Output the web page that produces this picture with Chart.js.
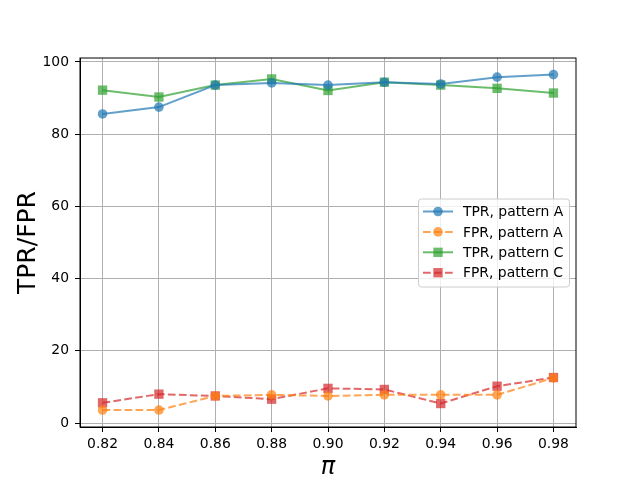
<!DOCTYPE html>
<html lang="en">
<head>
  <meta charset="UTF-8">
  <title>TPR/FPR vs pi</title>
  <script src="https://cdn.jsdelivr.net/npm/chart.js"></script>
  <style>
    body { margin: 0; background: #fff; }
  </style>
</head>
<body>
  <canvas id="rateChart" width="640" height="480"></canvas>

  <script>
    // values
    const piValues = [0.82, 0.84, 0.86, 0.88, 0.90, 0.92, 0.94, 0.96, 0.98];
    const tprA = [85.6, 87.5, 93.6, 94.2, 93.6, 94.4, 93.9, 95.8, 96.5];
    const fprA = [3.6, 3.6, 7.5, 7.8, 7.5, 7.8, 7.8, 7.8, 12.5];
    const tprC = [92.2, 90.3, 93.6, 95.3, 92.1, 94.4, 93.6, 92.7, 91.4];
    const fprC = [5.6, 8.0, 7.5, 6.6, 9.6, 9.3, 5.4, 10.2, 12.6];
    const yTicks = [0, 20, 40, 60, 80, 100];

    const toPoints = ys => piValues.map((x, i) => ({ x: x, y: ys[i] }));

    function series(label, ys, color, dashed, shape) {
      return {
        label: label,
        data: toPoints(ys),
        borderColor: color,
        backgroundColor: color,
        borderWidth: 2,
        borderDash: dashed ? [7.7, 3.3] : [],
        pointStyle: shape,
        pointRadius: shape === 'rect' ? 6.6 : 4.8,
        pointBorderWidth: 0,
        tension: 0
      };
    }

    // frame around the plot area
    const framePlugin = {
      id: 'frame',
      afterDraw(chart) {
        const a = chart.chartArea, ctx = chart.ctx;
        ctx.save();
        ctx.strokeStyle = '#000';
        ctx.lineWidth = 1;
        ctx.strokeRect(a.left, a.top, a.right - a.left, a.bottom - a.top);
        ctx.restore();
      }
    };

    // legend boxed inside the plot, centre right
    const insetLegend = {
      id: 'insetLegend',
      afterDraw(chart) {
        const a = chart.chartArea, ctx = chart.ctx;
        const sets = chart.data.datasets;
        const w = 151, rowH = 20.4, h = 88;
        const x0 = a.right - 7 - w;
        const y0 = (a.top + a.bottom) / 2 - h / 2;
        ctx.save();
        ctx.fillStyle = 'rgba(255,255,255,0.8)';
        ctx.strokeStyle = '#cccccc';
        ctx.lineWidth = 1;
        ctx.beginPath();
        ctx.roundRect(x0 + 0.5, y0 + 0.5, w, h, 3);
        ctx.fill();
        ctx.stroke();
        ctx.font = '13.9px "DejaVu Sans"';
        ctx.textBaseline = 'middle';
        sets.forEach((ds, i) => {
          const cy = y0 + 13 + i * rowH;
          ctx.strokeStyle = ds.borderColor;
          ctx.fillStyle = ds.backgroundColor;
          ctx.lineWidth = ds.borderWidth;
          ctx.setLineDash(ds.borderDash);
          ctx.beginPath();
          ctx.moveTo(x0 + 5, cy);
          ctx.lineTo(x0 + 35, cy);
          ctx.stroke();
          ctx.setLineDash([]);
          Chart.helpers.drawPoint(ctx, { pointStyle: ds.pointStyle, radius: ds.pointRadius, borderWidth: 0 }, x0 + 20, cy);
          ctx.fillStyle = '#000';
          ctx.fillText(ds.label, x0 + 45, cy + 1);
        });
        ctx.restore();
      }
    };

    const ctx = document.getElementById('rateChart').getContext('2d');
    new Chart(ctx, {
      type: 'line',
      data: {
        datasets: [
          series('TPR, pattern A', tprA, 'rgba(31,119,180,0.7)', false, 'circle'),
          series('FPR, pattern A', fprA, 'rgba(255,127,14,0.7)', true, 'circle'),
          series('TPR, pattern C', tprC, 'rgba(44,160,44,0.7)', false, 'rect'),
          series('FPR, pattern C', fprC, 'rgba(214,39,40,0.7)', true, 'rect')
        ]
      },
      options: {
        responsive: false,
        animation: false,
        layout: { padding: { top: 58, right: 64, left: 0, bottom: 0 } },
        plugins: {
          legend: { display: false },
          tooltip: { enabled: false }
        },
        scales: {
          x: {
            type: 'linear',
            min: 0.812,
            max: 0.988,
            afterBuildTicks: scale => { scale.ticks = piValues.map(v => ({ value: v })); },
            afterFit: scale => { scale.height = 53; },
            ticks: {
              color: '#000',
              font: { family: 'DejaVu Sans', size: 13.9 },
              padding: 4,
              maxRotation: 0,
              callback: v => v.toFixed(2)
            },
            grid: { color: '#b0b0b0', tickColor: '#000', tickLength: 5, lineWidth: 1 },
            border: { color: '#000' },
            title: {
              display: true,
              text: 'π',
              color: '#000',
              font: { family: 'DejaVu Sans', size: 24, style: 'italic' },
              padding: { top: 0, bottom: -2 }
            }
          },
          y: {
            type: 'linear',
            min: -1.1,
            max: 101.1,
            afterBuildTicks: scale => { scale.ticks = yTicks.map(v => ({ value: v })); },
            afterFit: scale => { scale.width = 80; },
            ticks: {
              color: '#000',
              font: { family: 'DejaVu Sans', size: 13.9 },
              padding: 6
            },
            grid: { color: '#b0b0b0', tickColor: '#000', tickLength: 5, lineWidth: 1 },
            border: { color: '#000' },
            title: {
              display: true,
              text: 'TPR/FPR',
              color: '#000',
              font: { family: 'DejaVu Sans', size: 25 },
              padding: { top: 13, bottom: 0 }
            }
          }
        }
      },
      plugins: [framePlugin, insetLegend]
    });
  </script>
</body>
</html>
